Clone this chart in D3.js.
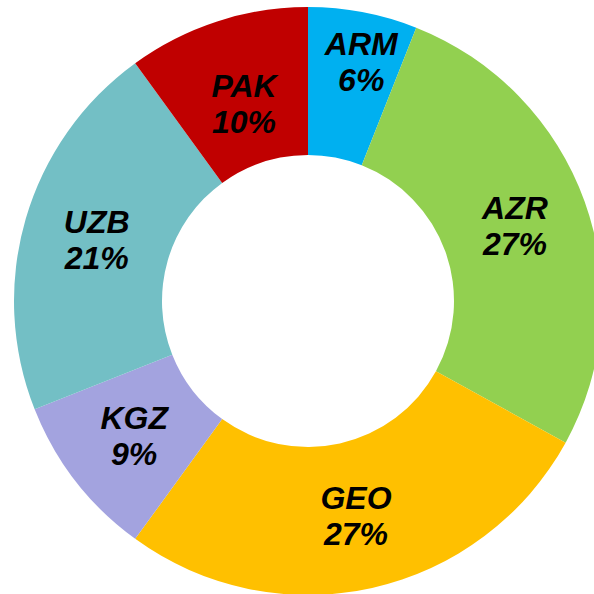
<!DOCTYPE html>
<html>
<head>
<meta charset="utf-8">
<script src="https://cdn.jsdelivr.net/npm/d3@7"></script>
<style>
  body { margin: 0; background: #fff; }
  svg text { font-family: "Liberation Sans", Arial, sans-serif; font-weight: bold; font-style: italic; }
</style>
</head>
<body>
<div id="chart"></div>
<script>
// chart data
var countries = ["ARM", "AZR", "GEO", "KGZ", "UZB", "PAK"];
var shares = [6, 27, 27, 9, 21, 10];
var colors = ["#00B0F0", "#92D050", "#FFC000", "#A3A3DF", "#73BFC5", "#C00000"];

var width = 594, height = 594;
var cx = 308, cy = 301;
var outer_r = 294, inner_r = 146;

// small label nudges (the two thin top slices have labels moved a bit)
var label_nudge = { ARM: [12, -23], PAK: [4, 12] };

var svg = d3.select("#chart").append("svg")
    .attr("width", width)
    .attr("height", height);

var g = svg.append("g")
    .attr("transform", "translate(" + cx + "," + cy + ")");

var pie = d3.pie()
    .value(d => d.value)
    .sort(null);

var arc = d3.arc()
    .innerRadius(inner_r)
    .outerRadius(outer_r);

var label_arc = d3.arc()
    .innerRadius((inner_r + outer_r) / 2)
    .outerRadius((inner_r + outer_r) / 2);

var data = countries.map((c, i) => ({ name: c, value: shares[i], color: colors[i] }));
var arcs = pie(data);

g.selectAll("path")
    .data(arcs)
    .join("path")
    .attr("d", arc)
    .attr("fill", d => d.data.color);

var labels = g.selectAll("g.label")
    .data(arcs)
    .join("g")
    .attr("class", "label")
    .attr("transform", function(d) {
        var c = label_arc.centroid(d);
        var n = label_nudge[d.data.name] || [0, 0];
        return "translate(" + (c[0] + n[0]) + "," + (c[1] + n[1]) + ")";
    });

labels.append("text")
    .attr("text-anchor", "middle")
    .attr("y", -7)
    .style("font-size", "32px")
    .text(d => d.data.name);

labels.append("text")
    .attr("text-anchor", "middle")
    .attr("y", 29)
    .style("font-size", "32px")
    .text(d => d3.format(".0f")(d.data.value / d3.sum(shares) * 100) + "%");
</script>
</body>
</html>
